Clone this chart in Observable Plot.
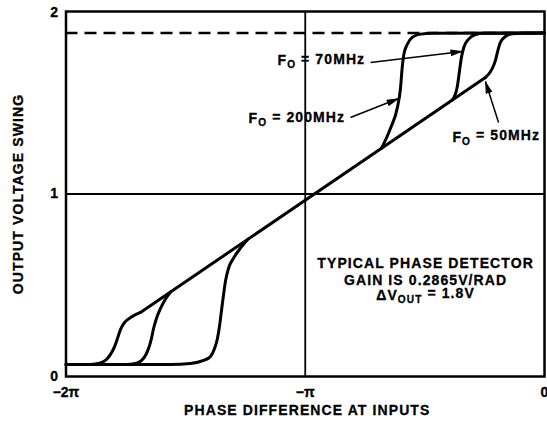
<!DOCTYPE html>
<html><head><meta charset="utf-8">
<script src="https://cdn.jsdelivr.net/npm/d3@7"></script>
<script src="https://cdn.jsdelivr.net/npm/@observablehq/plot@0.6"></script>
<style>
body{margin:0;background:#fff;}
#chart svg{font-family:"Liberation Sans",Arial,sans-serif;font-weight:bold;}
#chart svg text{stroke:#000;stroke-width:0.3px;}
#chart svg g[aria-label="text"] text{letter-spacing:1.1px;}
</style>
</head><body><div id="chart"></div>
<script>
// x in multiples of pi (phase difference), y in volts
const xTicks = [-2, -1, 0];
const xTickLabels = ["−2π", "−π", "0"];
const yTicks = [0, 1, 2];
const idealLevel = 1.882;

// shared linear region (phase detector gain line)
const diagX = [-1.689, -0.247];
const diagY = [0.351, 1.638];

// F0 = 50MHz: lower knee and upper knee
const f50LoX = [-2, -1.898, -1.856, -1.831, -1.814, -1.797, -1.785, -1.772, -1.755, -1.730, -1.689];
const f50LoY = [0.066, 0.066, 0.074, 0.093, 0.121, 0.164, 0.208, 0.258, 0.296, 0.323, 0.351];
const f50HiX = [-0.247, -0.219, -0.205, -0.195, -0.184, -0.163, -0.135, -0.100, 0];
const f50HiY = [1.638, 1.686, 1.732, 1.786, 1.832, 1.863, 1.878, 1.881, 1.882];

// F0 = 70MHz
const f70LoX = [-2, -1.751, -1.710, -1.684, -1.668, -1.655, -1.643, -1.634, -1.622, -1.605, -1.584, -1.563];
const f70LoY = [0.066, 0.066, 0.071, 0.088, 0.115, 0.153, 0.208, 0.263, 0.318, 0.373, 0.425, 0.463];
const f70HiX = [-0.385, -0.365, -0.355, -0.347, -0.337, -0.316, -0.288, -0.255, 0];
const f70HiY = [1.515, 1.585, 1.677, 1.750, 1.804, 1.850, 1.874, 1.881, 1.882];

// F0 = 200MHz
const f200LoX = [-2, -1.563, -1.480, -1.425, -1.396, -1.379, -1.367, -1.358, -1.350, -1.342, -1.333, -1.321, -1.300, -1.271, -1.241];
const f200LoY = [0.066, 0.066, 0.071, 0.088, 0.110, 0.153, 0.208, 0.279, 0.362, 0.444, 0.526, 0.592, 0.648, 0.703, 0.751];
const f200HiX = [-0.681, -0.644, -0.616, -0.602, -0.595, -0.588, -0.574, -0.553, -0.518, -0.468, 0];
const f200HiY = [1.251, 1.359, 1.468, 1.578, 1.690, 1.764, 1.819, 1.858, 1.876, 1.881, 1.882];

const labelText = ["F_{O} = 70MHz", "F_{O} = 200MHz", "F_{O} = 50MHz"];
const labelX = [-1.116, -1.237, -0.385];
const labelY = [1.732, 1.414, 1.311];

const arrowX1 = [-0.727, -0.811, -0.192];
const arrowY1 = [1.721, 1.419, 1.392];
const arrowX2 = [-0.343, -0.610, -0.247];
const arrowY2 = [1.781, 1.523, 1.616];

const noteLines = ["TYPICAL PHASE DETECTOR", "GAIN IS 0.2865V/RAD", "ΔV_{OUT} = 1.8V"];
const noteX = -0.497;
const noteY = [0.617, 0.528, 0.446];

const xTitle = "PHASE DIFFERENCE AT INPUTS";
const yTitle = "OUTPUT VOLTAGE SWING";

const seg = (xs, ys, k) => xs.map((x, i) => ({x, y: ys[i], k}));
const curves = [
  ...seg(f50LoX, f50LoY, "50lo"), ...seg(f50HiX, f50HiY, "50hi"),
  ...seg(f70LoX, f70LoY, "70lo"), ...seg(f70HiX, f70HiY, "70hi"),
  ...seg(f200LoX, f200LoY, "200lo"), ...seg(f200HiX, f200HiY, "200hi")
];
const diag = seg(diagX, diagY, "diag");
const labels = labelText.map((t, i) => ({t, x: labelX[i], y: labelY[i]}));
const arrows = arrowX1.map((x1, i) => ({x1, y1: arrowY1[i], x2: arrowX2[i], y2: arrowY2[i]}));
const notes = noteLines.map((t, i) => ({t, x: noteX, y: noteY[i]}));

const plot = Plot.plot({
  width: 547,
  height: 423,
  marginLeft: 65.5,
  marginRight: 3,
  marginTop: 11,
  marginBottom: 47,
  style: {fontSize: "14px", fontFamily: "'Liberation Sans', Arial, sans-serif", fontWeight: "bold", color: "#000", background: "#fff"},
  x: {domain: [-2, 0], ticks: xTicks, tickFormat: d => xTickLabels[xTicks.indexOf(d)], tickSize: 0, tickPadding: 11, label: null},
  y: {domain: [0, 2], ticks: yTicks, tickFormat: d => String(d), tickSize: 0, tickPadding: 8, label: null},
  marks: [
    Plot.ruleY([idealLevel], {stroke: "#000", strokeWidth: 2.5, strokeDasharray: "12,7"}),
    Plot.ruleX([-1], {stroke: "#000", strokeWidth: 1.8}),
    Plot.ruleY([1], {stroke: "#000", strokeWidth: 1.8}),
    Plot.line(diag, {x: "x", y: "y", stroke: "#000", strokeWidth: 3, strokeLinecap: "round"}),
    Plot.line(curves, {x: "x", y: "y", z: "k", curve: "monotone-x", stroke: "#000", strokeWidth: 3, strokeLinejoin: "round", strokeLinecap: "round"}),
    Plot.frame({stroke: "#000", strokeWidth: 2.5}),
    Plot.link(arrows, {x1: "x1", y1: "y1", x2: "x2", y2: "y2", stroke: "#000", strokeWidth: 1.5}),
    Plot.text(labels, {x: "x", y: "y", text: "t", textAnchor: "start", fontSize: 14, fontWeight: "bold", fill: "#000"}),
    Plot.text(notes, {x: "x", y: "y", text: "t", textAnchor: "middle", fontSize: 14, fontWeight: "bold", fill: "#000"}),
    Plot.text([xTitle], {frameAnchor: "bottom", lineAnchor: "middle", textAnchor: "middle", dy: 34, dx: 2, fontSize: 14, fontWeight: "bold", fill: "#000"}),
    Plot.text([yTitle], {frameAnchor: "left", lineAnchor: "middle", textAnchor: "middle", rotate: -90, dx: -47, fontSize: 14, fontWeight: "bold", fill: "#000"})
  ]
});

// filled arrowheads
const svg = d3.select(plot.tagName === "svg" ? plot : plot.querySelector("svg"));
svg.append("defs").append("marker")
  .attr("id", "ah").attr("viewBox", "0 0 13 7").attr("refX", 12).attr("refY", 3.5)
  .attr("markerWidth", 13).attr("markerHeight", 7).attr("markerUnits", "userSpaceOnUse").attr("orient", "auto")
  .append("path").attr("d", "M0,0L13,3.5L0,7Z").attr("fill", "#000");
svg.selectAll("g[aria-label='link'] path, g[aria-label='link'] line").attr("marker-end", "url(#ah)");

// nudge top y tick label up slightly, as in the original
svg.selectAll("g[aria-label='y-axis tick label'] text").each(function() {
  if (this.textContent === "2") d3.select(this).attr("dy", "0.1em");
});

// subscripts
svg.selectAll("text").each(function() {
  const s = this.textContent;
  const m = s.match(/^(.*?)_\{(.*?)\}(.*)$/);
  if (!m) return;
  const t = d3.select(this);
  t.text(null);
  t.append("tspan").text(m[1]);
  t.append("tspan").attr("dy", "0.32em").attr("font-size", "0.72em").text(m[2]);
  t.append("tspan").attr("dy", "-0.32em").text(m[3]);
});

document.getElementById("chart").appendChild(plot);
</script>
</body></html>
